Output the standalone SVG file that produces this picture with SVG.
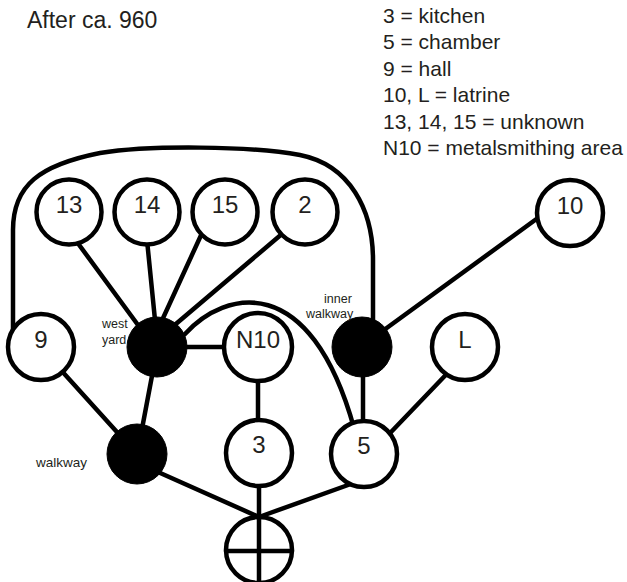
<svg xmlns="http://www.w3.org/2000/svg" width="627" height="582" viewBox="0 0 627 582">
  <style>
    .edge { fill: none; stroke: #000; stroke-width: 4.5; stroke-linecap: round; }
    .room { fill: #fff; stroke: #000; stroke-width: 4.5; }
    .yard { fill: #000; stroke: #000; stroke-width: 1; }
    .num { font-family: "Liberation Sans", Arial, sans-serif; font-size: 24px; fill: #231f20; text-anchor: middle; }
    .tag { font-family: "Liberation Sans", Arial, sans-serif; font-size: 12.5px; fill: #231f20; }
    .key { font-family: "Liberation Sans", Arial, sans-serif; font-size: 21px; fill: #231f20; }
  </style>
  <rect width="627" height="582" fill="#fff"/>

  <!-- title and key -->
  <text class="key" x="27" y="28" style="font-size:23px">After ca. 960</text>
  <g id="key">
    <text class="key" x="383" y="22.5">3 = kitchen</text>
    <text class="key" x="383" y="49">5 = chamber</text>
    <text class="key" x="383" y="75.5">9 = hall</text>
    <text class="key" x="383" y="102">10, L = latrine</text>
    <text class="key" x="383" y="128.5">13, 14, 15 = unknown</text>
    <text class="key" x="383" y="155">N10 = metalsmithing area</text>
  </g>

  <!-- connectors, drawn under the nodes -->
  <g id="connectors">
    <path class="edge" d="M13,335 L13,230 C13,185 40,165 100,153 C150,145 250,146 300,155 C350,165 373,210 373,260 L373,330"/>
    <path class="edge" d="M185,334 C225,290 310,270 354,428"/>
    <line class="edge" x1="66" y1="227" x2="149" y2="340"/>
    <line class="edge" x1="146" y1="230" x2="157" y2="340"/>
    <line class="edge" x1="208" y1="220" x2="153" y2="340"/>
    <line class="edge" x1="296" y1="222" x2="157" y2="340"/>
    <line class="edge" x1="160" y1="347" x2="240" y2="347"/>
    <line class="edge" x1="258" y1="360" x2="258" y2="440"/>
    <line class="edge" x1="50" y1="358" x2="135" y2="452"/>
    <line class="edge" x1="155" y1="360" x2="138" y2="450"/>
    <line class="edge" x1="140" y1="464" x2="259" y2="517"/>
    <line class="edge" x1="259" y1="470" x2="259" y2="590"/>
    <line class="edge" x1="362" y1="480" x2="259" y2="517"/>
    <line class="edge" x1="462" y1="358" x2="370" y2="454"/>
    <line class="edge" x1="363" y1="350" x2="363" y2="440"/>
    <line class="edge" x1="362" y1="346" x2="568" y2="196"/>
  </g>

  <!-- rooms -->
  <g id="n13"><circle class="room" cx="69" cy="212" r="32.5"/><text class="num" x="69" y="213">13</text></g>
  <g id="n14"><circle class="room" cx="147" cy="212" r="32.5"/><text class="num" x="147" y="213">14</text></g>
  <g id="n15"><circle class="room" cx="225" cy="212" r="32.5"/><text class="num" x="225" y="213">15</text></g>
  <g id="n2"><circle class="room" cx="305" cy="212" r="32.5"/><text class="num" x="305" y="213">2</text></g>
  <g id="n10"><circle class="room" cx="570" cy="213" r="33"/><text class="num" x="570" y="214">10</text></g>
  <g id="n9"><circle class="room" cx="41" cy="347" r="33"/><text class="num" x="41" y="348">9</text></g>
  <g id="nN10"><circle class="room" cx="258" cy="347" r="34"/><text class="num" x="258" y="348">N10</text></g>
  <g id="nL"><circle class="room" cx="465" cy="347" r="33"/><text class="num" x="465" y="348">L</text></g>
  <g id="n3"><circle class="room" cx="259" cy="453" r="33"/><text class="num" x="259" y="453">3</text></g>
  <g id="n5"><circle class="room" cx="364" cy="454" r="33"/><text class="num" x="364" y="454">5</text></g>

  <!-- open spaces -->
  <g id="west-yard"><circle class="yard" cx="157" cy="347" r="30"/><text class="tag" x="102" y="328">west</text><text class="tag" x="102" y="344">yard</text></g>
  <g id="inner-walkway"><circle class="yard" cx="362" cy="347" r="30"/><text class="tag" x="324" y="303">inner</text><text class="tag" x="306" y="318">walkway</text></g>
  <g id="walkway"><circle class="yard" cx="137" cy="454" r="30"/><text class="tag" x="36" y="467" style="font-size:13.5px">walkway</text></g>

  <!-- entrance -->
  <g id="entrance">
    <circle class="room" cx="259" cy="550" r="33" fill="none"/>
    <line class="edge" x1="226" y1="551" x2="292" y2="551"/>
    <line class="edge" x1="259" y1="517" x2="259" y2="590"/>
  </g>
</svg>
